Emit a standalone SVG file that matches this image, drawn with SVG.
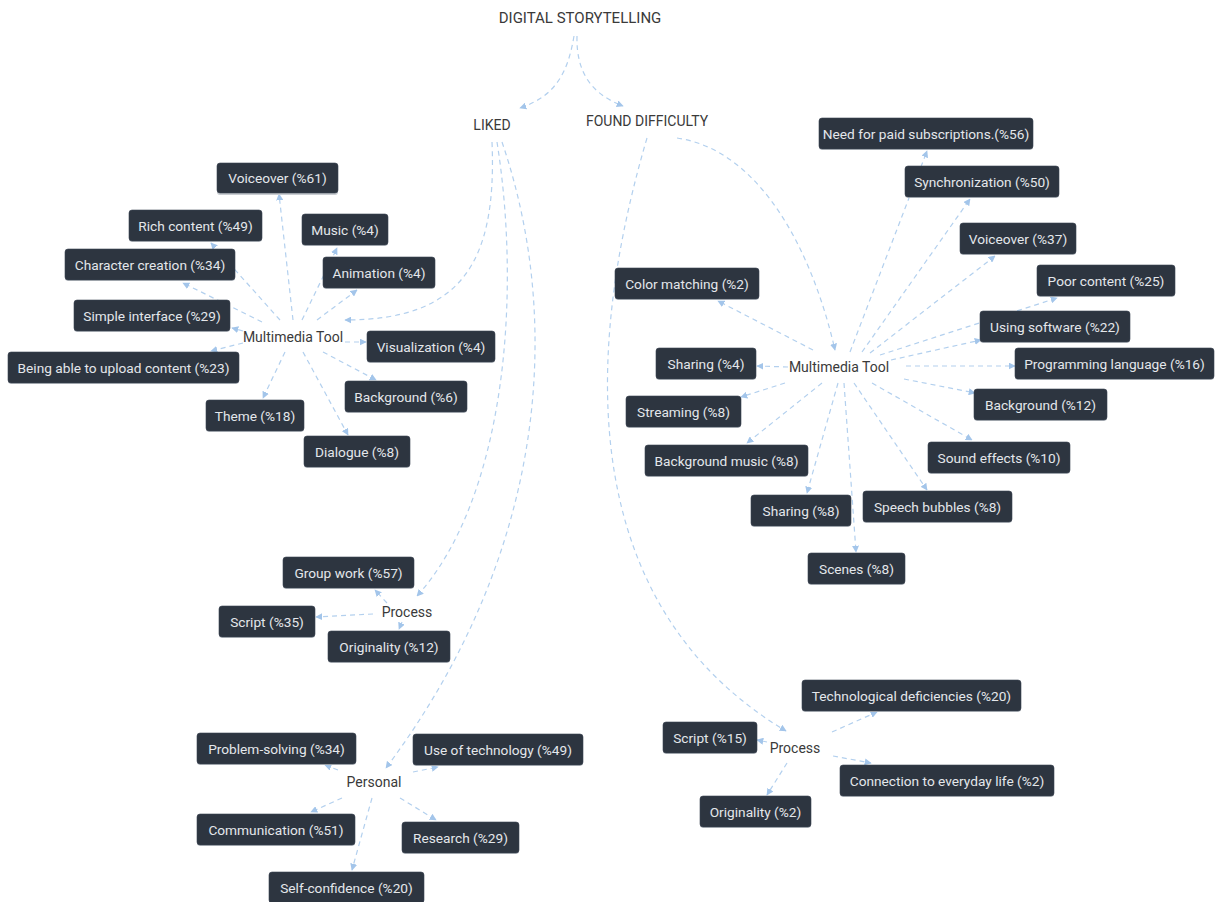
<svg xmlns="http://www.w3.org/2000/svg" width="1220" height="902" viewBox="0 0 1220 902">
<defs>
<style>
.bg{fill:#ffffff}
.box rect.b{fill:#2d3540;stroke:#3a4350;stroke-width:0.6}
.box rect.s{fill:#c9cdd2}
.box text{fill:#e4e7eb;font-family:Roboto,"Liberation Sans",sans-serif;font-size:13.7px;text-anchor:middle;dominant-baseline:central}
.lbl text{fill:#3a3a3a;font-family:Roboto,"Liberation Sans",sans-serif;font-size:14px;text-anchor:middle;dominant-baseline:central}
.lbl text.t{font-size:15px}
.edges path{fill:none;stroke:#b3d0ee;stroke-width:1.2;stroke-dasharray:5 4;marker-end:url(#ah)}
</style>
<marker id="ah" viewBox="0 0 10 10" refX="9" refY="5" markerWidth="7" markerHeight="7" markerUnits="userSpaceOnUse" orient="auto">
<path d="M0,0 L10,5 L0,10 z" fill="#a3c5ea"/>
</marker>
</defs>
<rect class="bg" x="0" y="0" width="1220" height="902"/>

<g id="connectors" class="edges">
<!-- root -->
<path d="M574,36 C568,72 556,96 520,108"/>
<path d="M577,36 C576,75 594,95 623,106"/>
<!-- LIKED -->
<path d="M492,142 C497,262 462,320 345,320"/>
<path d="M497,142 C522,300 504,500 417,596"/>
<path d="M502,142 C566,330 542,560 386,768"/>
<!-- FOUND DIFFICULTY -->
<path d="M677,138 C760,150 812,250 835,350"/>
<path d="M647,138 C570,400 600,620 786,731"/>
<!-- left multimedia tool -->
<path d="M293,320 L279,194"/>
<path d="M280,320 L211,243"/>
<path d="M262,322 L183,283"/>
<path d="M243,331 L232,328"/>
<path d="M243,343 L211,351"/>
<path d="M285,352 L263,398"/>
<path d="M303,352 L348,435"/>
<path d="M323,352 L376,380"/>
<path d="M345,342 L366,342"/>
<path d="M317,320 L357,290"/>
<path d="M302,320 L337,248"/>
<!-- right multimedia tool -->
<path d="M850,352 L927,151"/>
<path d="M862,352 L970,199"/>
<path d="M870,353 L995,256"/>
<path d="M880,355 L1057,298"/>
<path d="M891,360 L981,340"/>
<path d="M906,366 L1015,366"/>
<path d="M904,379 L975,393"/>
<path d="M813,350 L718,301"/>
<path d="M788,367 L757,366"/>
<path d="M785,383 L741,397"/>
<path d="M822,383 L747,443"/>
<path d="M838,383 L807,493"/>
<path d="M844,383 L856,552"/>
<path d="M854,383 L927,490"/>
<path d="M872,383 L972,440"/>
<!-- left process -->
<path d="M387,603 L375,590"/>
<path d="M373,614 L316,617"/>
<path d="M402,622 L399,629"/>
<!-- personal -->
<path d="M338,770 L325,765"/>
<path d="M413,772 L438,767"/>
<path d="M342,798 L311,812"/>
<path d="M400,798 L436,820"/>
<path d="M372,798 L352,870"/>
<!-- right process -->
<path d="M832,732 L877,712"/>
<path d="M767,742 L757,740"/>
<path d="M833,756 L871,763"/>
<path d="M787,763 L767,795"/>
</g>

<g id="title" class="lbl"><text class="t" x="580" y="18">DIGITAL STORYTELLING</text></g>
<g id="liked" class="lbl"><text x="492" y="125">LIKED</text></g>
<g id="found-difficulty" class="lbl"><text x="647" y="121">FOUND DIFFICULTY</text></g>
<g id="mm-left" class="lbl"><text x="293" y="337">Multimedia Tool</text></g>
<g id="mm-right" class="lbl"><text x="839" y="367">Multimedia Tool</text></g>
<g id="process-left" class="lbl"><text x="407" y="612">Process</text></g>
<g id="personal" class="lbl"><text x="374" y="782">Personal</text></g>
<g id="process-right" class="lbl"><text x="795" y="748">Process</text></g>

<!-- left multimedia boxes -->
<g id="l-voiceover" class="box"><rect class="s" x="217" y="164" width="121" height="31" rx="3"/><rect class="b" x="217" y="163" width="121" height="30" rx="3"/><text x="277.5" y="178">Voiceover (%61)</text></g>
<g id="l-rich" class="box"><rect class="s" x="129" y="211" width="133" height="31" rx="3"/><rect class="b" x="129" y="210" width="133" height="31" rx="3"/><text x="195.5" y="225.5">Rich content (%49)</text></g>
<g id="l-music" class="box"><rect class="s" x="302" y="215" width="86" height="31" rx="3"/><rect class="b" x="302" y="214" width="86" height="31" rx="3"/><text x="345" y="229.5">Music (%4)</text></g>
<g id="l-character" class="box"><rect class="s" x="65" y="250" width="170" height="31" rx="3"/><rect class="b" x="65" y="249" width="170" height="31" rx="3"/><text x="150" y="264.5">Character creation (%34)</text></g>
<g id="l-animation" class="box"><rect class="s" x="323" y="258" width="112" height="31" rx="3"/><rect class="b" x="323" y="257" width="112" height="31" rx="3"/><text x="379" y="272.5">Animation (%4)</text></g>
<g id="l-simple" class="box"><rect class="s" x="74" y="301" width="156" height="31" rx="3"/><rect class="b" x="74" y="300" width="156" height="31" rx="3"/><text x="152" y="315.5">Simple interface (%29)</text></g>
<g id="l-visualization" class="box"><rect class="s" x="367" y="332" width="128" height="31" rx="3"/><rect class="b" x="367" y="331" width="128" height="31" rx="3"/><text x="431" y="346.5">Visualization (%4)</text></g>
<g id="l-upload" class="box"><rect class="s" x="8" y="353" width="231" height="31" rx="3"/><rect class="b" x="8" y="352" width="231" height="31" rx="3"/><text x="123.5" y="367.5">Being able to upload content (%23)</text></g>
<g id="l-background" class="box"><rect class="s" x="345" y="382" width="122" height="31" rx="3"/><rect class="b" x="345" y="381" width="122" height="31" rx="3"/><text x="406" y="396.5">Background (%6)</text></g>
<g id="l-theme" class="box"><rect class="s" x="206" y="401" width="98" height="31" rx="3"/><rect class="b" x="206" y="400" width="98" height="31" rx="3"/><text x="255" y="415.5">Theme (%18)</text></g>
<g id="l-dialogue" class="box"><rect class="s" x="304" y="437" width="106" height="31" rx="3"/><rect class="b" x="304" y="436" width="106" height="31" rx="3"/><text x="357" y="451.5">Dialogue (%8)</text></g>

<!-- right multimedia boxes -->
<g id="r-paid" class="box"><rect class="s" x="819" y="119" width="214" height="31" rx="3"/><rect class="b" x="819" y="118" width="214" height="31" rx="3"/><text x="926" y="133.5">Need for paid subscriptions.(%56)</text></g>
<g id="r-sync" class="box"><rect class="s" x="905" y="167" width="154" height="31" rx="3"/><rect class="b" x="905" y="166" width="154" height="31" rx="3"/><text x="982" y="181.5">Synchronization (%50)</text></g>
<g id="r-voiceover" class="box"><rect class="s" x="960" y="224" width="116" height="31" rx="3"/><rect class="b" x="960" y="223" width="116" height="31" rx="3"/><text x="1018" y="238.5">Voiceover (%37)</text></g>
<g id="r-poor" class="box"><rect class="s" x="1037" y="266" width="138" height="31" rx="3"/><rect class="b" x="1037" y="265" width="138" height="31" rx="3"/><text x="1106" y="280.5">Poor content (%25)</text></g>
<g id="r-color" class="box"><rect class="s" x="615" y="269" width="144" height="31" rx="3"/><rect class="b" x="615" y="268" width="144" height="31" rx="3"/><text x="687" y="283.5">Color matching (%2)</text></g>
<g id="r-software" class="box"><rect class="s" x="980" y="312" width="150" height="31" rx="3"/><rect class="b" x="980" y="311" width="150" height="31" rx="3"/><text x="1055" y="326.5">Using software (%22)</text></g>
<g id="r-sharing4" class="box"><rect class="s" x="656" y="349" width="100" height="31" rx="3"/><rect class="b" x="656" y="348" width="100" height="31" rx="3"/><text x="706" y="363.5">Sharing (%4)</text></g>
<g id="r-programming" class="box"><rect class="s" x="1015" y="349" width="199" height="31" rx="3"/><rect class="b" x="1015" y="348" width="199" height="31" rx="3"/><text x="1114.5" y="363.5">Programming language (%16)</text></g>
<g id="r-streaming" class="box"><rect class="s" x="626" y="397" width="115" height="31" rx="3"/><rect class="b" x="626" y="396" width="115" height="31" rx="3"/><text x="683.5" y="411.5">Streaming (%8)</text></g>
<g id="r-background" class="box"><rect class="s" x="974" y="390" width="133" height="31" rx="3"/><rect class="b" x="974" y="389" width="133" height="31" rx="3"/><text x="1040.5" y="404.5">Background (%12)</text></g>
<g id="r-bgmusic" class="box"><rect class="s" x="645" y="446" width="163" height="31" rx="3"/><rect class="b" x="645" y="445" width="163" height="31" rx="3"/><text x="726.5" y="460.5">Background music (%8)</text></g>
<g id="r-sound" class="box"><rect class="s" x="928" y="443" width="142" height="31" rx="3"/><rect class="b" x="928" y="442" width="142" height="31" rx="3"/><text x="999" y="457.5">Sound effects (%10)</text></g>
<g id="r-sharing8" class="box"><rect class="s" x="751" y="496" width="100" height="31" rx="3"/><rect class="b" x="751" y="495" width="100" height="31" rx="3"/><text x="801" y="510.5">Sharing (%8)</text></g>
<g id="r-speech" class="box"><rect class="s" x="863" y="492" width="149" height="31" rx="3"/><rect class="b" x="863" y="491" width="149" height="31" rx="3"/><text x="937.5" y="506.5">Speech bubbles (%8)</text></g>
<g id="r-scenes" class="box"><rect class="s" x="808" y="554" width="97" height="31" rx="3"/><rect class="b" x="808" y="553" width="97" height="31" rx="3"/><text x="856.5" y="568.5">Scenes (%8)</text></g>

<!-- left process -->
<g id="p-group" class="box"><rect class="s" x="283" y="558" width="131" height="31" rx="3"/><rect class="b" x="283" y="557" width="131" height="31" rx="3"/><text x="348.5" y="572.5">Group work (%57)</text></g>
<g id="p-script" class="box"><rect class="s" x="219" y="607" width="96" height="31" rx="3"/><rect class="b" x="219" y="606" width="96" height="31" rx="3"/><text x="267" y="621.5">Script (%35)</text></g>
<g id="p-originality" class="box"><rect class="s" x="328" y="632" width="122" height="31" rx="3"/><rect class="b" x="328" y="631" width="122" height="31" rx="3"/><text x="389" y="646.5">Originality (%12)</text></g>

<!-- personal -->
<g id="s-problem" class="box"><rect class="s" x="197" y="734" width="159" height="31" rx="3"/><rect class="b" x="197" y="733" width="159" height="31" rx="3"/><text x="276.5" y="748.5">Problem-solving (%34)</text></g>
<g id="s-tech" class="box"><rect class="s" x="413" y="735" width="170" height="31" rx="3"/><rect class="b" x="413" y="734" width="170" height="31" rx="3"/><text x="498" y="749.5">Use of technology (%49)</text></g>
<g id="s-communication" class="box"><rect class="s" x="197" y="815" width="158" height="31" rx="3"/><rect class="b" x="197" y="814" width="158" height="31" rx="3"/><text x="276" y="829.5">Communication (%51)</text></g>
<g id="s-research" class="box"><rect class="s" x="402" y="823" width="117" height="31" rx="3"/><rect class="b" x="402" y="822" width="117" height="31" rx="3"/><text x="460.5" y="837.5">Research (%29)</text></g>
<g id="s-confidence" class="box"><rect class="s" x="269" y="873" width="155" height="31" rx="3"/><rect class="b" x="269" y="872" width="155" height="31" rx="3"/><text x="346.5" y="887.5">Self-confidence (%20)</text></g>

<!-- right process -->
<g id="q-tech" class="box"><rect class="s" x="802" y="681" width="219" height="31" rx="3"/><rect class="b" x="802" y="680" width="219" height="31" rx="3"/><text x="911.5" y="695.5">Technological deficiencies (%20)</text></g>
<g id="q-script" class="box"><rect class="s" x="663" y="723" width="94" height="31" rx="3"/><rect class="b" x="663" y="722" width="94" height="31" rx="3"/><text x="710" y="737.5">Script (%15)</text></g>
<g id="q-connection" class="box"><rect class="s" x="840" y="766" width="214" height="31" rx="3"/><rect class="b" x="840" y="765" width="214" height="31" rx="3"/><text x="947" y="780.5">Connection to everyday life (%2)</text></g>
<g id="q-originality" class="box"><rect class="s" x="700" y="797" width="111" height="31" rx="3"/><rect class="b" x="700" y="796" width="111" height="31" rx="3"/><text x="755.5" y="811.5">Originality (%2)</text></g>
</svg>
